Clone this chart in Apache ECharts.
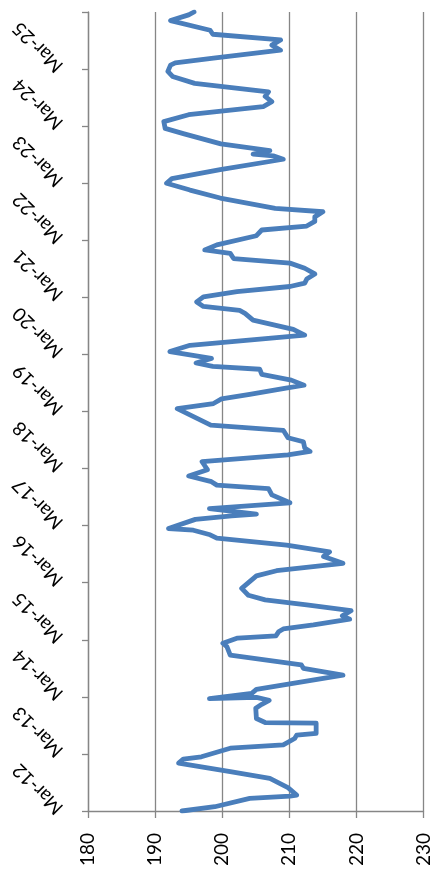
<!DOCTYPE html>
<html>
<head>
<meta charset="utf-8">
<script src="https://cdn.jsdelivr.net/npm/echarts@6/dist/echarts.min.js"></script>
<style>
  html, body { margin: 0; padding: 0; background: #fff; }
  #chart { width: 433px; height: 878px; }
</style>
</head>
<body>
<div id="chart"></div>
<script>
// Date labels for the vertical axis (one tick per day, starting at Mar-12)
const dayLabels = ['Mar-12','Mar-13','Mar-14','Mar-15','Mar-16','Mar-17','Mar-18',
                   'Mar-19','Mar-20','Mar-21','Mar-22','Mar-23','Mar-24','Mar-25'];

// Position of each reading, in days after Mar-12 00:00
const dayPos = [
  0.00, 0.075, 0.22, 0.26, 0.28, 0.41, 0.57, 0.69, 0.84, 0.91, 0.95,
  1.10, 1.16, 1.27, 1.33, 1.36, 1.54, 1.55, 1.62, 1.80, 1.87, 1.94, 1.99, 1.97,
  2.06, 2.13, 2.38, 2.50, 2.56, 2.73, 2.88, 2.94,
  3.03, 3.07, 3.14, 3.19, 3.26, 3.36, 3.42, 3.51, 3.61, 3.70, 3.78, 3.90,
  4.12, 4.21, 4.34, 4.46, 4.54, 4.66, 4.78, 4.84, 4.92, 4.95,
  5.11, 5.17, 5.20, 5.30, 5.40, 5.54, 5.65, 5.71, 5.77, 5.87, 5.98,
  6.12, 6.24, 6.30, 6.36, 6.47, 6.54, 6.67, 6.76,
  7.05, 7.14, 7.22, 7.30, 7.41, 7.46, 7.55, 7.65, 7.74, 7.79, 7.85, 7.93,
  8.05, 8.16, 8.34, 8.44, 8.60, 8.72, 8.77, 8.84, 8.92,
  9.01, 9.10, 9.19, 9.25, 9.32, 9.41, 9.51, 9.60, 9.68, 9.77, 9.83, 9.92,
  10.08, 10.18, 10.25, 10.33, 10.41, 10.50, 10.56, 10.74, 10.88,
  11.00, 11.08, 11.24, 11.42, 11.48, 11.51, 11.57, 11.69, 11.87, 11.96,
  12.08, 12.20, 12.34, 12.43, 12.52, 12.60, 12.75, 12.87, 12.96,
  13.07, 13.11, 13.19, 13.33, 13.42, 13.51, 13.61, 13.68, 13.85, 13.95, 14.00
];

// Reading at each position
const price = [
  194.0, 198.9, 204.1, 210.1, 211.1, 209.8, 207.1, 201.2, 193.5, 194.2, 196.9,
  201.2, 209.1, 210.8, 211.1, 214.0, 214.0, 206.4, 205.1, 205.0, 205.9, 207.0, 205.1, 198.1,
  204.4, 205.1, 218.0, 212.1, 211.8, 201.2, 200.7, 200.1,
  202.3, 208.0, 208.4, 209.1, 213.6, 219.0, 217.9, 219.2, 212.6, 206.4, 203.9, 202.9,
  205.1, 208.1, 218.0, 215.1, 216.0, 209.6, 199.2, 198.2, 195.7, 192.0,
  196.0, 201.4, 205.1, 198.1, 210.1, 207.4, 206.9, 199.2, 198.4, 195.0, 197.8,
  197.0, 209.8, 213.1, 212.3, 212.1, 209.8, 209.1, 198.3,
  193.3, 198.7, 199.9, 204.1, 209.5, 212.2, 210.3, 205.9, 205.6, 198.6, 196.1, 198.4,
  192.2, 195.2, 212.3, 210.6, 204.6, 203.4, 202.6, 197.2, 196.2,
  197.2, 202.2, 210.1, 212.3, 212.6, 213.8, 212.3, 210.1, 201.7, 201.2, 197.4, 199.2,
  205.1, 205.9, 212.6, 213.8, 213.8, 215.0, 207.9, 199.7, 195.2,
  191.7, 192.5, 199.7, 209.1, 207.6, 204.6, 207.1, 199.8, 194.2, 191.5,
  191.3, 195.0, 206.1, 207.4, 206.4, 206.9, 195.9, 192.6, 191.9,
  192.3, 193.0, 198.7, 208.7, 207.4, 208.7, 198.6, 198.2, 192.3, 195.0, 195.8
];

// Value axis ticks
const valueTicks = [180, 190, 200, 210, 220, 230];

const gridGrey = '#868686';
const lineBlue = '#4a7ebb';
const fontFamily = 'Lato, "Open Sans", sans-serif';

const points = dayPos.map((d, i) => [price[i], d]);

const chart = echarts.init(document.getElementById('chart'), null, { renderer: 'canvas' });
chart.setOption({
  animation: false,
  backgroundColor: '#ffffff',
  grid: { left: 88, right: 9, top: 12, bottom: 67, containLabel: false },
  xAxis: {
    type: 'value',
    min: valueTicks[0],
    max: valueTicks[valueTicks.length - 1],
    interval: valueTicks[1] - valueTicks[0],
    axisLine: { show: true, lineStyle: { color: gridGrey, width: 1.3 } },
    axisTick: { show: true, length: 7, lineStyle: { color: gridGrey, width: 1.3 } },
    axisLabel: {
      rotate: 90, margin: 22, color: '#000', fontSize: 19, fontFamily: fontFamily
    },
    splitLine: { show: true, lineStyle: { color: gridGrey, width: 1.3 } }
  },
  yAxis: {
    type: 'value',
    min: 0,
    max: dayLabels.length,
    interval: 1,
    axisLine: { show: true, lineStyle: { color: gridGrey, width: 1.3 } },
    axisTick: { show: true, length: 6, lineStyle: { color: gridGrey, width: 1.3 } },
    axisLabel: {
      rotate: 135,
      align: 'left',
      verticalAlign: 'middle',
      margin: 28,
      color: '#000',
      fontSize: 19,
      fontFamily: fontFamily,
      formatter: v => (v < dayLabels.length ? dayLabels[v] : '')
    },
    splitLine: { show: false }
  },
  series: [{
    type: 'line',
    data: points,
    showSymbol: false,
    symbol: 'none',
    smooth: false,
    lineStyle: { color: lineBlue, width: 4.8, join: 'round', cap: 'round' }
  }]
});
</script>
</body>
</html>
